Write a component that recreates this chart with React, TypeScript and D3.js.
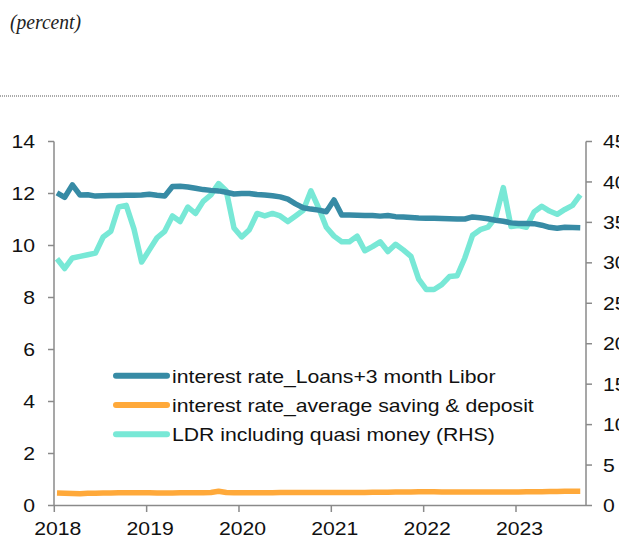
import React from "react";
import * as d3 from "d3";

// Monthly data Jan 2018 .. Sep 2023
const loansRate: number[] = [
  12.02, 11.85, 12.33, 11.94, 11.95, 11.9, 11.91, 11.92, 11.92, 11.93, 11.93, 11.94,
  11.97, 11.93, 11.9, 12.27, 12.28, 12.25, 12.2, 12.15, 12.12, 12.1, 12.05, 11.98,
  12.0, 12.0, 11.96, 11.94, 11.91, 11.87, 11.78, 11.6, 11.45, 11.4, 11.36, 11.3,
  11.75, 11.17, 11.17, 11.16, 11.15, 11.15, 11.13, 11.15, 11.11, 11.1, 11.08, 11.06,
  11.05, 11.05, 11.04, 11.03, 11.02, 11.02, 11.1, 11.07, 11.03, 10.97, 10.93, 10.87,
  10.85, 10.85, 10.84, 10.78, 10.7, 10.66, 10.7, 10.69, 10.68,
];

const savingRate: number[] = [
  0.48, 0.47, 0.46, 0.45, 0.47, 0.47, 0.48, 0.48, 0.49, 0.49, 0.49, 0.49,
  0.49, 0.48, 0.48, 0.48, 0.49, 0.49, 0.49, 0.49, 0.5, 0.55, 0.5, 0.49,
  0.49, 0.49, 0.49, 0.49, 0.49, 0.5, 0.5, 0.5, 0.5, 0.5, 0.5, 0.5,
  0.5, 0.5, 0.5, 0.5, 0.5, 0.51, 0.51, 0.51, 0.52, 0.52, 0.52, 0.53,
  0.53, 0.53, 0.52, 0.52, 0.52, 0.52, 0.52, 0.52, 0.52, 0.52, 0.52, 0.52,
  0.52, 0.53, 0.53, 0.53, 0.54, 0.54, 0.55, 0.55, 0.55,
];

const ldrRate: number[] = [
  30.5, 29.3, 30.6, 30.8, 31.0, 31.2, 33.2, 33.9, 36.9, 37.1, 34.2, 30.1,
  31.6, 33.1, 33.9, 35.8, 35.1, 36.9, 36.1, 37.6, 38.4, 39.8, 38.9, 34.3,
  33.2, 34.1, 36.1, 35.8, 36.1, 35.8, 35.1, 35.8, 36.5, 38.9, 36.8, 34.4,
  33.3, 32.6, 32.6, 33.3, 31.5, 32.0, 32.6, 31.4, 32.3, 31.6, 30.8, 28.0,
  26.7, 26.7, 27.3, 28.3, 28.4, 30.6, 33.4, 34.1, 34.4, 35.6, 39.3, 34.5,
  34.6, 34.4, 36.3, 37.0, 36.4, 36.0, 36.6, 37.1, 38.4,
];

const yearTicks: number[] = [2018, 2019, 2020, 2021, 2022, 2023];
const leftTicks: number[] = [0, 2, 4, 6, 8, 10, 12, 14];
const rightTicks: number[] = [0, 5, 10, 15, 20, 25, 30, 35, 40, 45];

const seriesNames: string[] = [
  "interest rate_Loans+3 month Libor",
  "interest rate_average saving & deposit",
  "LDR including quasi money (RHS)",
];
const seriesColors: string[] = ["#378BA5", "#FFA93A", "#78E8D6"];

const FONT = "'Liberation Sans', Arial, sans-serif";
const SX = 1.14;
const FS = 18.6;

export default function App() {
  const x = d3.scaleLinear().domain([2018, 2023.758]).range([54.3, 586]);
  const yL = d3.scaleLinear().domain([0, 14]).range([505.5, 141.5]);
  const yR = d3.scaleLinear().domain([0, 45]).range([505.5, 141.5]);
  const t = (i: number) => 2018 + (i + 0.35) / 12;

  const lineL = d3
    .line<number>()
    .x((_, i) => x(t(i)))
    .y((d) => yL(d));
  const lineR = d3
    .line<number>()
    .x((_, i) => x(t(i)))
    .y((d) => yR(d));

  const axisColor = "#8a8a8a";

  return (
    <svg
      width={619}
      height={539}
      style={{ position: "absolute", left: 0, top: 0, background: "#fff" }}
    >
      <text
        x={10}
        y={29}
        fontFamily="'Liberation Serif', 'Times New Roman', serif"
        fontStyle="italic"
        fontSize={22}
        textLength={71}
        lengthAdjust="spacingAndGlyphs"
        fill="#222"
      >
        (percent)
      </text>
      <line
        x1={0}
        x2={619}
        y1={96}
        y2={96}
        stroke="#555"
        strokeWidth={1}
        strokeDasharray="1,1"
      />

      {/* series */}
      <path d={lineR(ldrRate) || ""} fill="none" stroke={seriesColors[2]} strokeWidth={5.5} strokeLinejoin="round" />
      <path d={lineL(savingRate) || ""} fill="none" stroke={seriesColors[1]} strokeWidth={5.5} strokeLinejoin="round" />
      <path d={lineL(loansRate) || ""} fill="none" stroke={seriesColors[0]} strokeWidth={5.5} strokeLinejoin="round" />

      {/* left axis */}
      <line x1={54} x2={54} y1={yL(14)} y2={yL(0)} stroke={axisColor} strokeWidth={1.5} />
      {leftTicks.map((v) => (
        <g key={"l" + v}>
          <line x1={48} x2={54} y1={yL(v)} y2={yL(v)} stroke={axisColor} strokeWidth={1.5} />
          <text
            transform={`translate(35,${yL(v) + 6.6}) scale(${SX},1)`}
            textAnchor="end"
            fontFamily={FONT}
            fontSize={FS}
            fill="#111"
          >
            {v}
          </text>
        </g>
      ))}

      {/* right axis */}
      <line x1={586} x2={586} y1={yR(45)} y2={yR(0)} stroke={axisColor} strokeWidth={1.5} />
      {rightTicks.map((v) => (
        <g key={"r" + v}>
          <line x1={586} x2={592} y1={yR(v)} y2={yR(v)} stroke={axisColor} strokeWidth={1.5} />
          <text
            transform={`translate(603,${yR(v) + 6.6}) scale(${SX},1)`}
            textAnchor="start"
            fontFamily={FONT}
            fontSize={FS}
            fill="#111"
          >
            {v}
          </text>
        </g>
      ))}

      {/* x axis */}
      <line x1={54} x2={586} y1={505.5} y2={505.5} stroke={axisColor} strokeWidth={1.5} />
      {yearTicks.map((yr) => (
        <g key={"x" + yr}>
          <line x1={x(yr)} x2={x(yr)} y1={505.5} y2={512} stroke={axisColor} strokeWidth={1.5} />
          <text
            transform={`translate(${x(yr) + 3.5},535) scale(${SX},1)`}
            textAnchor="middle"
            fontFamily={FONT}
            fontSize={FS}
            fill="#111"
          >
            {yr}
          </text>
        </g>
      ))}

      {/* legend */}
      {seriesNames.map((name, i) => {
        const cy = 375.7 + i * 29.3;
        return (
          <g key={name}>
            <line
              x1={116}
              x2={167}
              y1={cy}
              y2={cy}
              stroke={seriesColors[i]}
              strokeWidth={6}
              strokeLinecap="round"
            />
            <text
              transform={`translate(172,${cy + 7}) scale(${SX},1)`}
              fontFamily={FONT}
              fontSize={FS}
              fill="#111"
            >
              {name}
            </text>
          </g>
        );
      })}
    </svg>
  );
}
